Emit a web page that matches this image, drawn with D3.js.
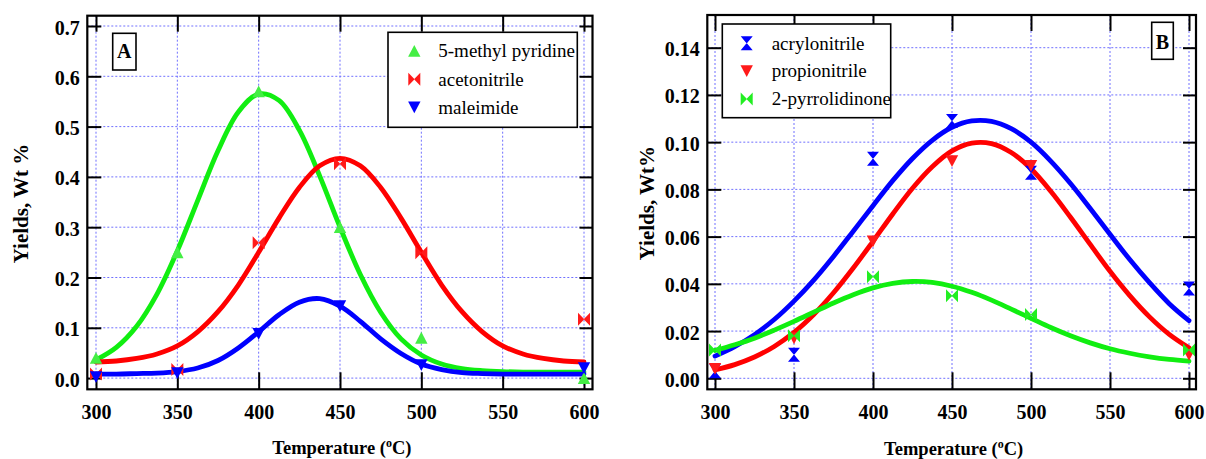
<!DOCTYPE html>
<html>
<head>
<meta charset="utf-8">
<script src="https://d3js.org/d3.v7.min.js"></script>
<style>
  body { margin: 0; background: #fff; }
  text { font-family: "Liberation Serif", "Times New Roman", serif; }
</style>
</head>
<body>
<svg></svg>
<script>
// measured points (temperature, wt %)
var temps = [300, 350, 400, 450, 500, 600];
var methylPyridine = [0.04, 0.25, 0.57, 0.30, 0.08, 0.00];
var acetonitrile = [0.008, 0.017, 0.269, 0.426, 0.249, 0.117];
var maleimide = [0.002, 0.010, 0.088, 0.143, 0.026, 0.020];
var acrylonitrile = [0.003, 0.010, 0.093, 0.109, 0.087, 0.038];
var propionitrile = [0.004, 0.017, 0.058, 0.092, 0.090, 0.010];
var pyrrolidinone = [0.012, 0.018, 0.043, 0.035, 0.027, 0.012];

// fitted curves
var fitTemps = [300, 312.5, 325, 337.5, 350, 362.5, 375, 387.5, 400, 412.5, 425, 437.5, 450,
  462.5, 475, 487.5, 500, 512.5, 525, 537.5, 550, 562.5, 575, 587.5, 600];
var fitMethyl = [0.036, 0.061, 0.103, 0.167, 0.253, 0.353, 0.452, 0.529, 0.565, 0.552, 0.493, 0.402, 0.300,
  0.206, 0.131, 0.078, 0.046, 0.028, 0.019, 0.015, 0.013, 0.012, 0.012, 0.012, 0.012];
var fitAceto = [0.032, 0.034, 0.039, 0.048, 0.064, 0.092, 0.132, 0.185, 0.250, 0.318, 0.379, 0.422, 0.437,
  0.422, 0.379, 0.318, 0.250, 0.185, 0.132, 0.092, 0.064, 0.048, 0.039, 0.034, 0.032];
var fitMale = [0.008, 0.008, 0.009, 0.010, 0.013, 0.020, 0.035, 0.060, 0.092, 0.126, 0.151, 0.158, 0.143,
  0.113, 0.078, 0.049, 0.028, 0.017, 0.011, 0.009, 0.008, 0.008, 0.008, 0.008, 0.008];
var fitAcryl = [0.0094, 0.0134, 0.0185, 0.0249, 0.0327, 0.0416, 0.0516, 0.0623, 0.0731, 0.0837, 0.0931, 0.1008, 0.1063,
  0.1090, 0.1088, 0.1057, 0.1000, 0.0920, 0.0825, 0.0719, 0.0610, 0.0503, 0.0405, 0.0316, 0.0244];
var fitPropio = [0.0036, 0.0058, 0.0090, 0.0135, 0.0194, 0.0270, 0.0362, 0.0467, 0.0580, 0.0696, 0.0805, 0.0896, 0.0963,
  0.0996, 0.0994, 0.0956, 0.0887, 0.0792, 0.0682, 0.0567, 0.0453, 0.0350, 0.0260, 0.0186, 0.0129];
var fitPyrro = [0.0118, 0.0142, 0.0170, 0.0204, 0.0241, 0.0280, 0.0319, 0.0354, 0.0383, 0.0402, 0.0410, 0.0406, 0.0390,
  0.0364, 0.0331, 0.0293, 0.0254, 0.0215, 0.0180, 0.0150, 0.0125, 0.0106, 0.0091, 0.0080, 0.0073];

var xTicks = [300, 350, 400, 450, 500, 550, 600];
var yTicksA = [0, 0.1, 0.2, 0.3, 0.4, 0.5, 0.6, 0.7];
var yTicksB = [0, 0.02, 0.04, 0.06, 0.08, 0.10, 0.12, 0.14];

var GREEN = '#11ee11', RED = '#ff0000', BLUE = '#0000ff';

var svg = d3.select('svg').attr('width', 1206).attr('height', 459);
svg.append('rect').attr('width', 1206).attr('height', 459).attr('fill', '#fff');

// marker shapes
function shape(kind) {
  if (kind === 'up') return 'M0,-6L6.2,5.8L-6.2,5.8Z';
  if (kind === 'down') return 'M0,6L6.2,-5.8L-6.2,-5.8Z';
  if (kind === 'bowtie') return 'M-6,-6.5L0.3,0L-6,6.5Z M6,-6.5L-0.3,0L6,6.5Z';
  // hourglass
  return 'M-6,-7L6,-7L0,0.3Z M-6,7L6,7L0,-0.3Z';
}

function panel(cfg) {
  var g = svg.append('g');
  var f = cfg.frame;
  var x = d3.scaleLinear().domain([300, 600]).range(cfg.xRange);
  var y = d3.scaleLinear().domain([0, cfg.yTicks[cfg.yTicks.length - 1]]).range(cfg.yRange);

  // dotted grid
  g.selectAll('.gx').data(xTicks).enter().append('line')
    .attr('x1', x).attr('x2', x).attr('y1', f.y0).attr('y2', f.y1)
    .attr('stroke', '#7070ff').attr('stroke-width', 1).attr('stroke-dasharray', '2,2');
  g.selectAll('.gy').data(cfg.yTicks).enter().append('line')
    .attr('y1', y).attr('y2', y).attr('x1', f.x0).attr('x2', f.x1)
    .attr('stroke', '#7070ff').attr('stroke-width', 1).attr('stroke-dasharray', '2,2');

  // axes with inward ticks
  var bottom = g.append('g').attr('transform', 'translate(0,' + f.y1 + ')')
    .call(d3.axisBottom(x).tickValues(xTicks).tickSize(-17).tickPadding(15.5).tickFormat(d3.format('d')));
  var top = g.append('g').attr('transform', 'translate(0,' + f.y0 + ')')
    .call(d3.axisTop(x).tickValues(xTicks).tickSize(-16).tickFormat(''));
  var left = g.append('g').attr('transform', 'translate(' + f.x0 + ',0)')
    .call(d3.axisLeft(y).tickValues(cfg.yTicks).tickSize(-14).tickPadding(7.5).tickFormat(d3.format(cfg.yFormat)));
  var right = g.append('g').attr('transform', 'translate(' + f.x1 + ',0)')
    .call(d3.axisRight(y).tickValues(cfg.yTicks).tickSize(-13).tickFormat(''));
  [bottom, top, left, right].forEach(function (a) {
    a.select('.domain').remove();
    a.selectAll('line').attr('stroke', '#000').attr('stroke-width', 2);
    a.selectAll('text').attr('fill', '#000').attr('font-size', 20).attr('font-weight', 'bold')
      .attr('font-family', '"Liberation Serif", serif');
  });
  left.selectAll('text').attr('dy', '0.4em');

  // fitted curves
  var line = d3.line().x(function (d) { return x(d[0]); }).y(function (d) { return y(d[1]); })
    .curve(d3.curveCatmullRom);
  cfg.series.forEach(function (s) {
    g.append('path').datum(fitTemps.map(function (t, i) { return [t, s.fit[i]]; }))
      .attr('d', line).attr('fill', 'none').attr('stroke', s.color).attr('stroke-width', 4.8)
      .attr('stroke-linejoin', 'round').attr('stroke-linecap', 'round');
  });
  cfg.series.forEach(function (s) {
    g.selectAll(null).data(temps.map(function (t, i) { return [t, s.pts[i]]; })).enter().append('path')
      .attr('transform', function (d) { return 'translate(' + x(d[0]) + ',' + y(d[1]) + ')'; })
      .attr('d', shape(s.shape)).attr('fill', s.mark);
  });

  // frame
  g.append('rect').attr('x', f.x0).attr('y', f.y0).attr('width', f.x1 - f.x0).attr('height', f.y1 - f.y0)
    .attr('fill', 'none').attr('stroke', '#000').attr('stroke-width', 2.2);

  // legend
  var L = cfg.legend;
  g.append('rect').attr('x', L.x0).attr('y', L.y0).attr('width', L.x1 - L.x0).attr('height', L.y1 - L.y0)
    .attr('fill', '#fff').attr('stroke', '#000').attr('stroke-width', 1.6);
  cfg.series.forEach(function (s, i) {
    var ry = L.rows[i];
    g.append('path').attr('transform', 'translate(' + L.sx + ',' + ry + ')').attr('d', shape(s.shape)).attr('fill', s.mark);
    g.append('text').attr('x', L.tx).attr('y', ry + 6.3).attr('font-size', 19).text(s.name);
  });

  // panel letter
  var B = cfg.tag;
  g.append('rect').attr('x', B.x0).attr('y', B.y0).attr('width', B.x1 - B.x0).attr('height', B.y1 - B.y0)
    .attr('fill', '#fff').attr('stroke', '#000').attr('stroke-width', 1.6);
  g.append('text').attr('x', (B.x0 + B.x1) / 2).attr('y', B.base).attr('text-anchor', 'middle')
    .attr('font-size', 20).attr('font-weight', 'bold').text(B.label);

  // axis titles
  var xt = g.append('text').attr('x', (f.x0 + f.x1) / 2 + 2).attr('y', cfg.xTitleY).attr('text-anchor', 'middle')
    .attr('font-size', 18.5).attr('font-weight', 'bold');
  xt.append('tspan').text('Temperature (');
  xt.append('tspan').attr('font-size', 12).attr('dy', -7).text('o');
  xt.append('tspan').attr('dy', 7).text('C)');
  g.append('text').attr('transform', 'translate(' + cfg.yTitleX + ',' + ((f.y0 + f.y1) / 2 + 1) + ') rotate(-90)')
    .attr('text-anchor', 'middle').attr('font-size', 21).attr('font-weight', 'bold').text(cfg.yTitle);
}

panel({
  frame: {x0: 87.3, x1: 592.5, y0: 15.7, y1: 389.3},
  xRange: [96, 584], yRange: [378.1, 26],
  yTicks: yTicksA, yFormat: '.1f',
  yTitle: 'Yields, Wt %', yTitleX: 27.5, xTitleY: 454,
  series: [
    {name: '5-methyl pyridine', pts: methylPyridine, fit: fitMethyl, color: GREEN, mark: '#44ee44', shape: 'up'},
    {name: 'acetonitrile', pts: acetonitrile, fit: fitAceto, color: RED, mark: '#ff1a1a', shape: 'bowtie'},
    {name: 'maleimide', pts: maleimide, fit: fitMale, color: BLUE, mark: '#0000ff', shape: 'down'}
  ],
  legend: {x0: 388, x1: 577.3, y0: 32.3, y1: 127.3, sx: 414.3, tx: 438.3, rows: [51, 79.3, 107.3]},
  tag: {x0: 112.7, x1: 136, y0: 33.3, y1: 70, base: 58.3, label: 'A'}
});

panel({
  frame: {x0: 707.3, x1: 1196, y0: 15, y1: 389.3},
  xRange: [715, 1189], yRange: [378.3, 47.7],
  yTicks: yTicksB, yFormat: '.2f',
  yTitle: 'Yields, Wt%', yTitleX: 653.5, xTitleY: 455,
  series: [
    {name: 'acrylonitrile', pts: acrylonitrile, fit: fitAcryl, color: BLUE, mark: '#0000ff', shape: 'hourglass'},
    {name: 'propionitrile', pts: propionitrile, fit: fitPropio, color: RED, mark: '#ff1a1a', shape: 'down'},
    {name: '2-pyrrolidinone', pts: pyrrolidinone, fit: fitPyrro, color: GREEN, mark: '#22ee22', shape: 'bowtie'}
  ],
  legend: {x0: 722.3, x1: 890.7, y0: 24, y1: 117.7, sx: 746.7, tx: 771.7, rows: [43.3, 71, 99]},
  tag: {x0: 1151.7, x1: 1173.3, y0: 22.3, y1: 59.3, base: 49, label: 'B'}
});
</script>
</body>
</html>
